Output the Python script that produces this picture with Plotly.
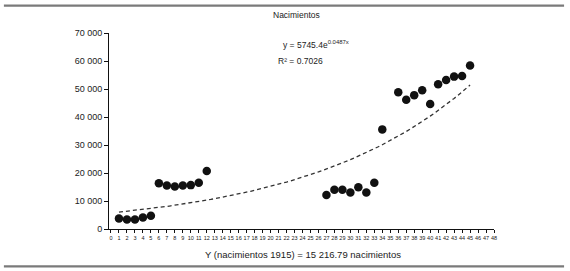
import math
import plotly.graph_objects as go

# Data
x_vals = [1, 2, 3, 4, 5, 6, 7, 8, 9, 10, 11, 12,
          27, 28, 29, 30, 31, 32, 33, 34,
          36, 37, 38, 39, 40, 41, 42, 43, 44, 45]
births = [3780, 3430, 3430, 4130, 4700, 16360, 15550, 15190, 15550, 15670, 16500, 20740,
          12120, 14020, 14020, 13070, 14950, 13070, 16500, 35580,
          48870, 46180, 47810, 49580, 44630, 51700, 53240, 54420, 54660, 58410]

# Trend line equation shown on the chart
trend_a = 5745.4
trend_b = 0.0487
trend_x = [i / 2 for i in range(2, 91)]

y_tickvals = [0, 10000, 20000, 30000, 40000, 50000, 60000, 70000]
y_ticktext = ["0", "10 000", "20 000", "30 000", "40 000", "50 000", "60 000", "70 000"]
x_tickvals = list(range(0, 49))

trend_y = [trend_a * math.exp(trend_b * xv) for xv in trend_x]

FONT = "Liberation Sans, Arial, sans-serif"
TXT = "#222222"

fig = go.Figure()
fig.add_trace(go.Scatter(
    x=trend_x, y=trend_y, mode="lines",
    line=dict(color="#333333", width=1.3, dash="4px,3px"),
    hoverinfo="skip", showlegend=False))
fig.add_trace(go.Scatter(
    x=x_vals, y=births, mode="markers",
    marker=dict(color="#111111", size=8.5),
    showlegend=False))

fig.update_xaxes(
    range=[-0.25, 48], tickvals=x_tickvals, ticktext=[str(v) for v in x_tickvals],
    showgrid=False, zeroline=False, showline=True, linecolor="#111", linewidth=1,
    ticks="outside", ticklen=3, tickcolor="#111", tickwidth=1,
    tickfont=dict(family=FONT, size=5.5, color=TXT), tickangle=0)
fig.update_yaxes(
    range=[0, 70000], tickvals=y_tickvals, ticktext=y_ticktext,
    showgrid=False, zeroline=False, showline=True, linecolor="#111", linewidth=1,
    ticks="outside", ticklen=4, tickcolor="#111", tickwidth=1,
    tickfont=dict(family=FONT, size=9, color=TXT))

annos = [
    dict(text="Nacimientos", x=0.488, y=1.092, xanchor="center", yanchor="middle",
         font=dict(size=8.5)),
    dict(text="y = 5745.4e<sup>0.0487x</sup>", x=0.447, y=0.939, xanchor="left",
         yanchor="middle", font=dict(size=8.5)),
    dict(text="R² = 0.7026", x=0.434, y=0.857, xanchor="left", yanchor="middle",
         font=dict(size=8.5)),
    dict(text="Y (nacimientos 1915) = 15 216.79 nacimientos", x=0.504, y=-0.128,
         xanchor="center", yanchor="middle", font=dict(size=9.5)),
]
for a in annos:
    a["font"].update(family=FONT, color=TXT)
    fig.add_annotation(xref="paper", yref="paper", showarrow=False, **a)

for yv in [1.14, -0.191]:
    fig.add_shape(type="line", xref="paper", yref="paper", x0=-0.273, x1=1.182,
                  y0=yv, y1=yv, line=dict(color="#7a7a7a", width=2.2), layer="above")

fig.update_layout(
    width=570, height=271,
    margin=dict(l=109, r=76, t=33, b=42),
    paper_bgcolor="white", plot_bgcolor="white",
    font=dict(family=FONT, color=TXT),
)

fig.write_html("out.html", config={"displayModeBar": False},
               post_script="document.body.style.margin='0';")
